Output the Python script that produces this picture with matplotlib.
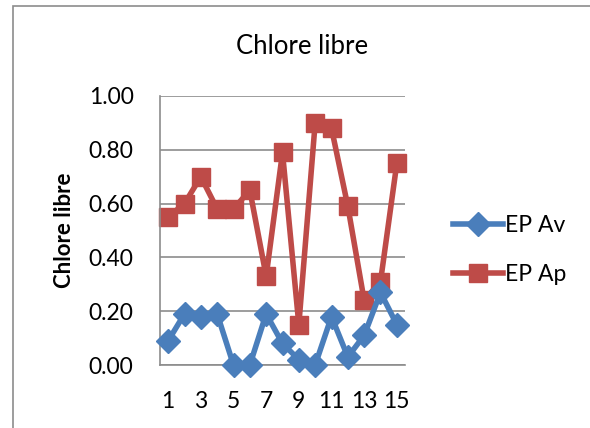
import matplotlib
matplotlib.use("Agg")
import matplotlib.pyplot as plt
from matplotlib.patches import Rectangle

categories = list(range(1, 16))
ep_av = [0.09, 0.19, 0.18, 0.19, 0.00, 0.00, 0.19, 0.08, 0.02, 0.00, 0.18, 0.03, 0.11, 0.27, 0.15]
ep_ap = [0.55, 0.60, 0.70, 0.58, 0.58, 0.65, 0.33, 0.79, 0.15, 0.90, 0.88, 0.59, 0.24, 0.31, 0.75]
yticks = [0.0, 0.2, 0.4, 0.6, 0.8, 1.0]
xtick_labels = [1, 3, 5, 7, 9, 11, 13, 15]

plt.rcParams['font.family'] = ['Lato', 'DejaVu Sans']

fig = plt.figure(figsize=(5.9, 4.28), dpi=100)
fig.patch.set_facecolor('white')
fig.patches.append(Rectangle((13/590, -0.1), 1.2, 1 - 6/428 + 0.1, transform=fig.transFigure,
                             fill=False, edgecolor='#8c8c8c', linewidth=1.2))

ax = fig.add_axes([160/590, 1 - 365/428, 245/590, 269/428])
ax.plot(categories, ep_av, color='#4a7ebb', lw=4, marker='D', markersize=12.5,
        label='EP Av', zorder=3, clip_on=False)
ax.plot(categories, ep_ap, color='#be4b48', lw=4, marker='s', markersize=13.5,
        label='EP Ap', zorder=2, clip_on=False)

ax.set_xlim(0.5, 15.5)
ax.set_ylim(0, 1.0)
ax.set_yticks(yticks)
ax.set_yticklabels([f"{v:.2f}" for v in yticks], fontsize=16.5)
ax.set_xticks(xtick_labels)
ax.set_xticklabels([str(v) for v in xtick_labels], fontsize=16.5)
ax.tick_params(axis='both', length=0)
ax.tick_params(axis='y', pad=19)
ax.tick_params(axis='x', pad=19)
ax.grid(axis='y', color='#8c8c8c', lw=1.2)
ax.set_axisbelow(True)
for s in ['top', 'right']:
    ax.spines[s].set_visible(False)
for s in ['left', 'bottom']:
    ax.spines[s].set_color('#8c8c8c')
    ax.spines[s].set_linewidth(1.2)

ax.set_ylabel('Chlore libre', fontsize=16, fontweight='bold', labelpad=10)
fig.text(302/590, 1 - 47/428, 'Chlore libre', fontsize=18.5, ha='center', va='center')

leg = fig.legend(loc='center left', bbox_to_anchor=(432/590, 1 - 250/428), frameon=False,
                 fontsize=16.5, handlelength=2.2, handletextpad=0.1, labelspacing=1.25)

fig.savefig('out.png', dpi=100)
